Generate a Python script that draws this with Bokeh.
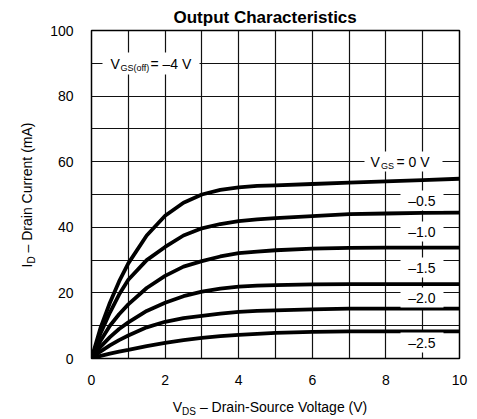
import math
from bokeh.plotting import figure
from bokeh.models import Range1d, Label, BoxAnnotation, SingleIntervalTicker, Div
from bokeh.layouts import row, column
from bokeh.embed import file_html
from bokeh.resources import INLINE

# ---- data ----
vds = [0, 0.25, 0.5, 0.75, 1, 1.5, 2, 2.5, 3, 3.5, 4, 4.5, 5, 6, 7, 8, 9, 10]
id_vgs_0 = [0, 9.5, 17, 23.5, 29, 37.5, 43.5, 47.5, 50, 51.4, 52.2, 52.6, 52.8, 53.2, 53.6, 54.0, 54.4, 54.8]
id_vgs_m05 = [0, 7.8, 14, 19.5, 24, 30, 34, 37.5, 39.7, 41, 41.9, 42.4, 42.8, 43.4, 44, 44.2, 44.4, 44.5]
id_vgs_m10 = [0, 5.5, 10, 13.5, 16.5, 21.5, 25.2, 28, 29.7, 31.1, 32.1, 32.6, 33, 33.5, 33.7, 33.8, 33.8, 33.8]
id_vgs_m15 = [0, 3.6, 6.5, 9, 11, 14.5, 17, 19, 20.4, 21.3, 21.9, 22.2, 22.4, 22.6, 22.7, 22.7, 22.7, 22.7]
id_vgs_m20 = [0, 2.2, 4, 5.6, 7, 9.5, 11.2, 12.3, 13, 13.7, 14.2, 14.5, 14.7, 15, 15.2, 15.2, 15.2, 15.2]
id_vgs_m25 = [0, 0.8, 1.5, 2.1, 2.6, 3.8, 4.8, 5.6, 6.3, 6.8, 7.2, 7.5, 7.8, 8.1, 8.3, 8.3, 8.3, 8.3]
series = [id_vgs_0, id_vgs_m05, id_vgs_m10, id_vgs_m15, id_vgs_m20, id_vgs_m25]
curve_labels = ["–0.5", "–1.0", "–1.5", "–2.0", "–2.5"]

title_text = "Output Characteristics"
x_ticks_interval = 2
y_ticks_interval = 20

# ---- layout geometry (page pixels) ----
YLAB_W = 40
FL, FT, FW, FH = 91, 30, 368, 328
FIG_H = 394
def px2x(px):
    return (px - FL) / FW * 10.0
def py2y(py):
    return (FT + FH - py) / FH * 100.0

FONT = "Liberation Sans"

p = figure(frame_width=FW, frame_height=FH,
           x_range=Range1d(0, 10), y_range=Range1d(0, 100),
           output_backend="svg", toolbar_location=None,
           min_border_left=FL - YLAB_W, min_border_right=477 - YLAB_W - (FL - YLAB_W) - FW,
           min_border_top=FT, min_border_bottom=FIG_H - FT - FH, margin=0)
p.background_fill_color = "white"
p.border_fill_color = "white"
p.outline_line_color = "black"
p.outline_line_width = 1.5

p.title.text = title_text
p.title.text_font = FONT
p.title.text_font_size = "17px"
p.title.text_font_style = "bold"
p.title.text_color = "black"
p.title.align = "left"
p.title.offset = 82
p.title.standoff = 7

p.xaxis.ticker = SingleIntervalTicker(interval=x_ticks_interval)
p.yaxis.ticker = SingleIntervalTicker(interval=y_ticks_interval)
p.xgrid.ticker = SingleIntervalTicker(interval=1)
p.ygrid.ticker = SingleIntervalTicker(interval=10)
for g in (p.xgrid, p.ygrid):
    g.grid_line_color = "#111111"
    g.grid_line_width = 1.2
    g.grid_line_alpha = 1.0

for ax in (p.xaxis, p.yaxis):
    ax.axis_line_color = None
    ax.major_tick_line_color = None
    ax.minor_tick_line_color = None
    ax.major_tick_out = 0
    ax.major_tick_in = 0
    ax.major_label_text_font = FONT
    ax.major_label_text_font_size = "14px"
    ax.major_label_text_color = "black"
p.yaxis.major_label_standoff = 14
p.xaxis.major_label_standoff = 12

for ys in series:
    p.line(vds, ys, line_color="black", line_width=3.8, line_join="round", line_cap="round")

# white boxes behind in-plot labels
boxes = [
    (102, 199, 52, 74),
    (364, 442, 151, 171),
    (400, 443, 190, 210),
    (400, 443, 221, 241),
    (400, 443, 257, 277),
    (400, 443, 287, 307),
    (400, 443, 332, 352),
]
for (l, r, t, b) in boxes:
    p.add_layout(BoxAnnotation(left=px2x(l), right=px2x(r), top=py2y(t), bottom=py2y(b),
                               fill_color="white", fill_alpha=1.0, line_color=None))

def txt(px, py, text, size=14, align="left"):
    p.add_layout(Label(x=px2x(px), y=py2y(py), x_units="data", y_units="data",
                       text=text, text_font=FONT, text_font_size=f"{size}px",
                       text_align=align, text_baseline="middle", text_color="black"))

# V_GS(off) label
txt(110, 63, "V")
txt(120, 67, "GS(off)", size=9)
txt(150, 63, "= –4 V")

# V_GS = 0 V label
txt(370, 161, "V")
txt(380.5, 165, "GS", size=9)
txt(396, 161, "= 0 V")

# curve labels
for lab, py in zip(curve_labels, [200, 231, 267, 297, 342]):
    txt(435, py, lab, align="right")

# axis titles with subscripts (HTML text)
SUB = "font-size:10px; vertical-align:-3px;"
ylab = Div(width=YLAB_W, height=FIG_H, margin=0, text=(
    f'<div style="position:relative; width:{YLAB_W}px; height:{FIG_H}px;">'
    '<div style="position:absolute; left:28px; top:195px; transform:translate(-50%,-50%) rotate(-90deg); '
    f'white-space:nowrap; font-family:\'{FONT}\'; font-size:14px; color:black;">'
    f'I<sub style="{SUB}">D</sub> – Drain Current (mA)</div></div>'))
xlab = Div(width=477, height=419 - FIG_H, margin=0, text=(
    f'<div style="position:relative; width:477px; height:{419 - FIG_H}px;">'
    '<div style="position:absolute; left:270px; top:14px; transform:translate(-50%,-50%); '
    f'white-space:nowrap; font-family:\'{FONT}\'; font-size:14px; color:black;">'
    f'V<sub style="{SUB}">DS</sub> – Drain-Source Voltage (V)</div></div>'))

layout = column(row(ylab, p, margin=0), xlab, margin=0)

open("out.html", "w").write(file_html(layout, INLINE))
